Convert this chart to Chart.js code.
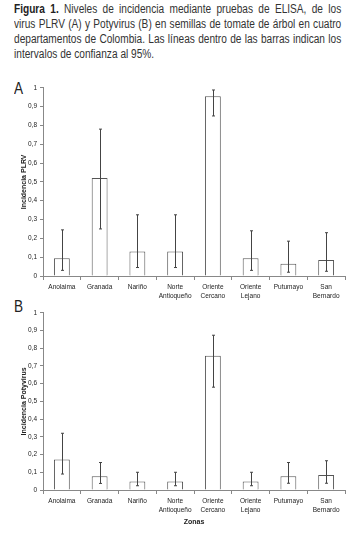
<!DOCTYPE html>
<html>
<head>
<meta charset="utf-8">
<script src="https://cdn.jsdelivr.net/npm/chart.js@4.4.0/dist/chart.umd.min.js"></script>
<style>
  body { margin: 0; background: #fff; width: 354px; height: 538px; position: relative; overflow: hidden; }
  #caption {
    position: absolute; left: 14px; top: 2px; width: 404px;
    transform: scaleX(0.81); transform-origin: 0 0;
    font-family: "Liberation Sans", Arial, sans-serif;
    font-size: 12.5px; line-height: 15px; color: #333;
  }
  #caption div { white-space: nowrap; }
  #caption .j { text-align: justify; text-align-last: justify; }
  #caption b { color: #222; }
  .panel { position: absolute; left: 14px; font-family: "Liberation Sans", Arial, sans-serif; font-size: 17px; color: #222; transform: scaleX(0.8); transform-origin: 0 0; }
  .box { position: absolute; left: 0; width: 354px; }
</style>
</head>
<body>
<div id="caption">
  <div class="j"><b>Figura 1.</b> Niveles de incidencia mediante pruebas de ELISA, de los</div>
  <div class="j">virus PLRV (A) y Potyvirus (B) en semillas de tomate de árbol en cuatro</div>
  <div class="j">departamentos de Colombia. Las líneas dentro de las barras indican los</div>
  <div>intervalos de confianza al 95%.</div>
</div>
<div class="panel" style="top:79px">A</div>
<div class="panel" style="top:297px">B</div>
<div class="box" style="top:80px;height:225px"><canvas id="chartA"></canvas></div>
<div class="box" style="top:305px;height:233px"><canvas id="chartB"></canvas></div>
<script>
const zonas = [
    ["Anolaima"], ["Granada"], ["Nariño"], ["Norte", "Antioqueño"],
    ["Oriente", "Cercano"], ["Oriente", "Lejano"], ["Putumayo"], ["San", "Bernardo"]
];

// PLRV (A)
const plrv = [0.094, 0.52, 0.13, 0.13, 0.954, 0.094, 0.065, 0.085];
const plrvLow = [0.03, 0.25, 0.045, 0.045, 0.85, 0.03, 0.02, 0.025];
const plrvHigh = [0.245, 0.78, 0.325, 0.325, 0.988, 0.24, 0.185, 0.23];

// Potyvirus (B)
const poty = [0.172, 0.078, 0.048, 0.048, 0.757, 0.048, 0.078, 0.084];
const potyLow = [0.09, 0.037, 0.024, 0.024, 0.58, 0.024, 0.038, 0.038];
const potyHigh = [0.32, 0.155, 0.1, 0.1, 0.873, 0.1, 0.155, 0.165];

const tickFont = { family: "Liberation Sans, Arial, sans-serif", size: 6.5, lineHeight: 1.45 };

// dibuja los intervalos de confianza
const errorBars = {
    id: 'errorBars',
    afterDatasetsDraw(chart, args, opts) {
        const ctx = chart.ctx;
        const x = chart.scales.x;
        const y = chart.scales.y;
        ctx.save();
        ctx.strokeStyle = '#444';
        ctx.lineWidth = 1;
        opts.low.forEach((lo, i) => {
            const px = Math.round(x.getPixelForValue(i)) + 0.5;
            const yl = y.getPixelForValue(lo);
            const yh = y.getPixelForValue(opts.high[i]);
            ctx.beginPath();
            ctx.moveTo(px, yl); ctx.lineTo(px, yh);
            ctx.moveTo(px - 1.5, yl); ctx.lineTo(px + 1.5, yl);
            ctx.moveTo(px - 1.5, yh); ctx.lineTo(px + 1.5, yh);
            ctx.stroke();
        });
        ctx.restore();
    }
};

function crearGrafico(id, valores, low, high, tituloY, tituloX, padTop, xHeight) {
    new Chart(document.getElementById(id), {
        type: 'bar',
        data: {
            labels: zonas,
            datasets: [{
                data: valores,
                backgroundColor: '#fff',
                borderColor: '#555',
                borderWidth: 1,
                barPercentage: 0.42,
                categoryPercentage: 1
            }]
        },
        options: {
            responsive: true,
            maintainAspectRatio: false,
            animation: false,
            layout: { padding: { top: padTop, right: 9, left: 0, bottom: 0 } },
            plugins: {
                legend: { display: false },
                tooltip: { enabled: false },
                errorBars: { low: low, high: high }
            },
            scales: {
                x: {
                    grid: { offset: true, drawOnChartArea: false, tickLength: 4, color: '#888' },
                    border: { color: '#888' },
                    ticks: { font: tickFont, color: '#222', maxRotation: 0, autoSkip: false, padding: 2 },
                    title: {
                        display: !!tituloX, text: tituloX, color: '#222',
                        font: { family: "Liberation Sans, Arial, sans-serif", size: 7, weight: 'bold' },
                        padding: { top: 2, bottom: 12 }
                    },
                    afterFit: s => { s.height = xHeight; }
                },
                y: {
                    min: 0, max: 1,
                    grid: { drawOnChartArea: false, tickLength: 3, color: '#888' },
                    border: { color: '#888' },
                    ticks: {
                        stepSize: 0.1, font: tickFont, color: '#222', padding: 3,
                        callback: v => (Math.round(v * 10) / 10).toString().replace('.', ',')
                    },
                    title: {
                        display: true, text: tituloY, color: '#222',
                        font: { family: "Liberation Sans, Arial, sans-serif", size: 7, weight: 'bold' },
                        padding: { top: 20, bottom: 0 }
                    },
                    afterFit: s => { s.width = 43; }
                }
            }
        },
        plugins: [errorBars]
    });
}

crearGrafico('chartA', plrv, plrvLow, plrvHigh, 'Incidencia PLRV', '', 7, 29);
crearGrafico('chartB', poty, potyLow, potyHigh, 'Incidencia Potyvirus', 'Zonas', 6.7, 48);
</script>
</body>
</html>
